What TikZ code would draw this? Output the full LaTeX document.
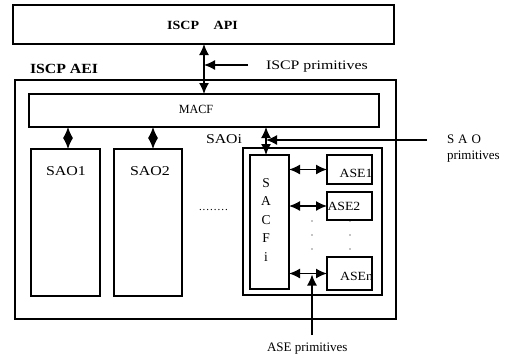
\documentclass[tikz,border=0pt]{standalone}
\usepackage{fontspec}
\setmainfont{Liberation Serif}
\usepackage{graphicx}
\usetikzlibrary{arrows.meta}
\newcommand\fs[1]{\fontsize{#1}{#1}\selectfont}
\newcommand\widen[2]{\scalebox{#1}[1]{#2}}

\begin{document}
\begin{tikzpicture}[x=1pt,y=-1pt,
  blk/.style={draw, line width=1.3pt, rectangle, inner sep=0pt, outer sep=0pt},
  txt/.style={inner sep=0pt, outer sep=0pt},
  hd/.style={Latex[length=11pt,width=10pt]},
  dbl/.style={line width=1.4pt, {Latex[length=11pt,width=10pt]}-{Latex[length=11pt,width=10pt]}},
  dia/.style={line width=1.4pt, {Latex[length=11pt,width=10pt]}-{Latex[length=11pt,width=10pt]}},
  one/.style={line width=1.3pt, -{Latex[length=11pt,width=10pt]}}]
\useasboundingbox (0,0) rectangle (524,357);

% boxes
\node[blk, minimum width=381pt, minimum height=39pt]  (api)  at (203.5,24.5) {};
\node[blk, minimum width=381pt, minimum height=239pt] (aei)  at (205.5,199.5) {};
\node[blk, minimum width=350pt, minimum height=33pt]  (macf) at (204,110.5) {};
\node[blk, minimum width=69pt,  minimum height=147pt] (sao1) at (65.5,222.5) {};
\node[blk, minimum width=68pt,  minimum height=147pt] (sao2) at (148,222.5) {};
\node[blk, minimum width=139pt, minimum height=147pt] (saoi) at (312.5,221.5) {};
\node[blk, minimum width=39pt,  minimum height=134pt] (sacf) at (269.5,222) {};
\node[blk, minimum width=45pt,  minimum height=29pt]  (ase1) at (349.5,169.5) {};
\node[blk, minimum width=45pt,  minimum height=28pt]  (ase2) at (349.5,206) {};
\node[blk, minimum width=45pt,  minimum height=33pt]  (asen) at (349.5,273.5) {};

% texts
\node[txt, font=\fs{12.5}\bfseries] (apil) at (202.5,25) {\widen{1.12}{ISCP\hspace{13pt}API}};
\node[txt, font=\fs{13}, anchor=base west] (iscpp) at (266,69.5) {\widen{1.22}{ISCP primitives}};
\node[txt, font=\fs{14}\bfseries, anchor=base west] (aeil) at (30,73.5) {\widen{1.13}{ISCP AEI}};
\node[txt, font=\fs{12.5}] (macfl) at (196,109) {\widen{0.97}{MACF}};
\node[txt, font=\fs{13.5}] (sao1l) at (66,171) {\widen{1.18}{SAO1}};
\node[txt, font=\fs{13.5}] (sao2l) at (150,171) {\widen{1.18}{SAO2}};
\node[txt, font=\fs{13.5}] (saoil) at (224,139) {\widen{1.17}{SAOi}};
\node[txt, font=\fs{11}, anchor=base] (gap) at (213.5,210) {.\kern1pt.\kern1pt.\kern1pt.\kern1pt.\kern1pt.\kern1pt.\kern1pt.};
\foreach \ch [count=\k from 0] in {S,A,C,F,i}
  \node[txt, font=\fs{13.5}] (sacf\k) at (266,183+18.5*\k) {\ch};
\node[txt, font=\fs{12.5}, anchor=base east] (ase1l) at (372.5,177) {\widen{1.1}{ASE1}};
\node[txt, font=\fs{12.5}, anchor=base west] (ase2l) at (327.5,210) {\widen{1.1}{ASE2}};
\node[txt, font=\fs{12.5}, anchor=base east] (asenl) at (373,280) {\widen{1.1}{ASEn}};
\node[txt, font=\fs{13}, anchor=base west] (saop1) at (447,143) {S\kern4pt A\kern4pt O};
\node[txt, font=\fs{13}, anchor=base west] (saop2) at (447,159) {primitives};
\node[txt, font=\fs{13}, anchor=base west] (asep) at (267,351) {ASE primitives};

% connectors
\draw[dbl] (api.south -| macf.north) -- (macf.north);
\coordinate (ip0) at (248,65);
\draw[one] (ip0) -- (ip0 -| macf.north);
\draw[dia] (sao1.north -| 68,0) -- (macf.south -| 68,0);
\draw[dia] (sao2.north -| 153,0) -- (macf.south -| 153,0);
\draw[dbl] (sacf.north -| 266,0) -- (macf.south -| 266,0);
\coordinate (sp0) at (427,140);
\draw[one] (sp0) -- (266,140);
\draw[dbl] (sacf.east |- ase1.west) -- (ase1.west);
\draw[dbl] (sacf.east |- ase2.west) -- (ase2.west);
\draw[dbl] (sacf.east |- asen.west) -- (asen.west);
\coordinate (ap0) at (312,335);
\draw[one] (ap0) -- (312,274.5);

% vertical ellipses between ASE2 and ASEn
\foreach \yy in {221,235,249} {
  \fill (312,\yy) circle (0.7pt);
  \fill (350,\yy) circle (0.7pt);
}
\end{tikzpicture}
\end{document}
